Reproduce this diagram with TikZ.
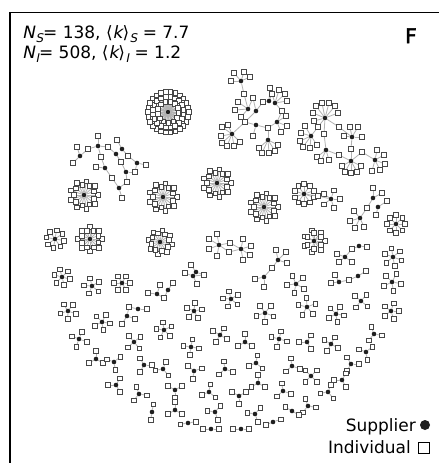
\documentclass[tikz,border=0pt]{standalone}
\usepackage{fontspec}
\setmainfont{DejaVu Sans}
\newfontfamily\obl{DejaVu Sans}[FakeSlant=0.2]
\newfontfamily\bld{DejaVu Sans}[FakeBold=2.5]
\usetikzlibrary{calc}
\tikzset{
 supp/.style={circle,fill=black!88,inner sep=0pt,minimum size=4.6pt},
 ind/.style={rectangle,draw=black!72,fill=white,inner sep=0pt,minimum size=4.6pt,line width=0.55pt},
 edge/.style={draw=black!30,line width=0.8pt},
 lbl/.style={inner sep=0pt,font=\fontsize{17}{20}\selectfont},
}
\newcommand\SUPP[3]{\node[supp] (#1) at (#2,#3) {};}
\newcommand\RING[5]{\foreach \k in {1,...,#3}{\draw[edge] (#1) -- ($(#1)+({#5+360*\k/#3}:#4)$) node[ind] (#1#2\k) {};}}
\newcommand\STAR[6]{\SUPP{#1}{#2}{#3}\RING{#1}{l}{#4}{#5}{#6}}
\newcommand\HUB[3]{\SUPP{#1}{#2}{#3}\RING{#1}{a}{9}{14}{0}\RING{#1}{b}{9}{10.5}{20}}
\newcommand\LEAF[4]{\foreach \s in {#4}{\draw[edge] (\s) -- (#2,#3);}\node[ind] (#1) at (#2,#3) {};}
\newcommand\SB[1]{\kern0.6pt\raisebox{-0.28em}{\fontsize{12}{12}\selectfont\obl #1}}
\begin{document}
\begin{tikzpicture}[x=1pt,y=-1pt]
\useasboundingbox (0,0) rectangle (439,463);
\fill[white] (0,0) rectangle (439,463);
\draw[line width=1.3pt] (10,463) -- (10,12.5) -- (439,12.5);
% texts
\node[lbl,anchor=base west] (t1) at (22,38) {{\obl N}\SB{S}= 138, ⟨{\obl k}⟩\SB{S} = 7.7};
\node[lbl,anchor=base west] (t2) at (22,58) {{\obl N}\SB{I}= 508, ⟨{\obl k}⟩\SB{I} = 1.2};
\node[inner sep=0pt,anchor=base,font=\bld\fontsize{20}{20}\selectfont] (F) at (411,43) {F};
\node[lbl,anchor=base east] (lg1) at (416,431) {Supplier};
\node[supp,minimum size=10pt] (lgs) at (425,425) {};
\node[lbl,anchor=base east] (lg2) at (411,453) {Individual};
\node[ind,minimum size=11pt,line width=1.2pt,draw=black] (lgi) at (424,448) {};
% big hub
\SUPP{h0}{168}{112}\RING{h0}{a}{26}{20.5}{0}\RING{h0}{b}{20}{15.5}{9}\RING{h0}{c}{13}{10.5}{5}
% medium hubs
\HUB{h1}{84}{195}
\HUB{h2}{163}{197}
\HUB{h3}{217}{183}
\HUB{h4}{264}{207}
\SUPP{h5}{90}{239}\RING{h5}{a}{8}{12}{0}\RING{h5}{b}{8}{9}{22}
\SUPP{h6}{160}{242}\RING{h6}{a}{8}{12}{10}\RING{h6}{b}{8}{9}{32}
\SUPP{h7}{314}{241}\RING{h7}{a}{7}{11}{0}\RING{h7}{b}{6}{8}{30}
% stars
\STAR{s1}{55}{239}{8}{9}{10}
\STAR{s2}{304}{194}{10}{10}{18}
\STAR{s3}{331}{199}{5}{9}{0}
\LEAF{q1}{318}{196}{s2,s3}
\STAR{s4}{62}{277}{6}{8}{15}
\STAR{s5}{92}{286}{5}{8}{40}
\STAR{s6}{122}{283}{6}{8}{0}
\STAR{s7}{68}{311}{5}{8}{20}
\STAR{s8}{194}{311}{5}{8}{60}
\STAR{s9}{102}{322}{5}{8}{10}
\STAR{s10}{164}{330}{5}{8}{45}
\STAR{s11}{220}{335}{4}{8}{30}
\STAR{s12}{79}{339}{4}{8}{20}
\STAR{s13}{134}{342}{4}{8}{50}
\STAR{s14}{191}{347}{4}{8}{10}
\STAR{s15}{96}{359}{3}{8}{30}
\STAR{s16}{114}{362}{3}{8}{80}
\STAR{s17}{144}{365}{3}{8}{0}
\STAR{s18}{163}{369}{3}{8}{50}
\STAR{s19}{194}{371}{3}{8}{100}
\STAR{s20}{225}{369}{3}{8}{20}
\STAR{s21}{116}{385}{3}{8}{60}
\STAR{s22}{139}{394}{3}{8}{10}
\STAR{s23}{175}{390}{3}{8}{90}
\STAR{s24}{209}{392}{3}{8}{40}
\STAR{s25}{152}{412}{2}{8}{100}
\STAR{s26}{175}{410}{3}{8}{30}
\STAR{s27}{215}{412}{3}{8}{70}
\STAR{s28}{188}{423}{2}{8}{170}
\STAR{s29}{211}{429}{2}{8}{0}
\STAR{s30}{265}{313}{5}{9}{20}
\STAR{s31}{307}{307}{5}{9}{50}
\STAR{s32}{336}{314}{5}{8}{10}
\STAR{s33}{361}{301}{4}{8}{40}
\STAR{s34}{391}{311}{5}{8}{0}
\STAR{s35}{245}{342}{3}{8}{30}
\STAR{s36}{279}{339}{4}{8}{15}
\STAR{s37}{307}{342}{3}{8}{60}
\STAR{s38}{331}{344}{4}{8}{30}
\STAR{s39}{374}{334}{3}{8}{10}
\STAR{s40}{366}{352}{3}{8}{80}
\STAR{s41}{256}{363}{3}{8}{40}
\STAR{s42}{292}{366}{3}{8}{20}
\STAR{s43}{311}{376}{4}{8}{45}
\STAR{s44}{351}{364}{3}{8}{0}
\STAR{s45}{342}{380}{3}{8}{60}
\STAR{s46}{258}{383}{3}{8}{30}
\STAR{s47}{239}{396}{3}{8}{90}
\STAR{s48}{283}{391}{3}{8}{20}
\STAR{s49}{328}{392}{3}{8}{50}
\STAR{s50}{308}{406}{3}{8}{10}
\STAR{s51}{255}{414}{3}{8}{70}
\STAR{s52}{273}{422}{2}{8}{160}
\STAR{s53}{292}{411}{2}{8}{30}
\STAR{s54}{241}{429}{2}{8}{0}
\STAR{s55}{396}{224}{8}{9}{0}
\STAR{s56}{393}{257}{6}{9}{20}
\STAR{s57}{392}{282}{5}{9}{10}
\STAR{s58}{296}{284}{5}{9}{30}
\STAR{s59}{231}{299}{5}{8}{40}
% pairs
\SUPP{p1}{219}{245}\SUPP{p2}{241}{249}
\LEAF{u1}{217}{234}{p1}\LEAF{u2}{209}{239}{p1}\LEAF{u3}{209}{249}{p1}\LEAF{u4}{217}{256}{p1}
\LEAF{u5}{230}{243}{p1,p2}\LEAF{u6}{229}{252}{p1,p2}
\LEAF{u7}{243}{239}{p2}\LEAF{u8}{251}{246}{p2}\LEAF{u9}{250}{255}{p2}\LEAF{u10}{243}{260}{p2}
\SUPP{p3}{278}{260}\SUPP{p4}{264}{277}
\LEAF{u11}{276}{250}{p3}\LEAF{u12}{286}{252}{p3}\LEAF{u13}{287}{263}{p3}\LEAF{u14}{272}{268}{p3,p4}
\LEAF{u15}{255}{279}{p4}\LEAF{u16}{264}{287}{p4}
\SUPP{p5}{196}{272}\SUPP{p6}{193}{276}
\LEAF{u17}{191}{265}{p5}\LEAF{u18}{185}{273}{p6}\LEAF{u19}{204}{275}{p5,p6}\LEAF{u20}{197}{284}{p6}
\SUPP{p7}{157}{294}\SUPP{p8}{168}{290}
\LEAF{u21}{148}{293}{p7}\LEAF{u22}{160}{285}{p7}\LEAF{u23}{173}{283}{p8}\LEAF{u24}{164}{298}{p7,p8}
\SUPP{p9}{138}{309}\SUPP{p10}{127}{316}
\LEAF{u25}{129}{307}{p9,p10}\LEAF{u26}{147}{309}{p9}\LEAF{u27}{135}{319}{p10}\LEAF{u28}{122}{324}{p10}
% right middle
\SUPP{r1}{373}{198}\SUPP{r2}{378}{207}\SUPP{r3}{360}{218}
\LEAF{v1}{373}{188}{r1}\LEAF{v2}{382}{193}{r1}\LEAF{v3}{387}{201}{r2}\LEAF{v4}{376}{215}{r2}
\LEAF{v5}{367}{208}{r1,r3}
\LEAF{v6}{354}{211}{r3}\LEAF{v7}{350}{221}{r3}\LEAF{v8}{355}{228}{r3}\LEAF{v9}{364}{227}{r3}
\SUPP{m1}{359}{246}\SUPP{m2}{345}{257}
\LEAF{v10}{367}{247}{m1}\LEAF{v11}{352}{249}{m1,m2}
\LEAF{v12}{337}{254}{m2}\LEAF{v13}{339}{262}{m2}\LEAF{v14}{352}{262}{m2}
\SUPP{n1}{339}{282}\SUPP{n2}{358}{276}
\LEAF{v15}{331}{283}{n1}\LEAF{v16}{335}{275}{n1}\LEAF{v17}{349}{280}{n1,n2}\LEAF{v18}{366}{271}{n2}
% left top cluster
\SUPP{L1}{80}{156}\SUPP{L2}{98}{146}\SUPP{L3}{116}{154}\SUPP{L3b}{122}{149}
\SUPP{L4}{105}{168}\SUPP{L5}{126}{172}\SUPP{L6}{137}{163}\SUPP{L7}{119}{188}
\LEAF{w1}{77}{147}{L1}\LEAF{w2}{73}{163}{L1}\LEAF{w3}{88}{149}{L1,L2}
\LEAF{w4}{98}{136}{L2}\LEAF{w5}{108}{147}{L2,L3}\LEAF{w6}{101}{157}{L2,L4}
\LEAF{w7}{117}{140}{L3b}\LEAF{w8}{128}{156}{L3b,L6}\LEAF{w9}{121}{162}{L3,L5}
\LEAF{w10}{146}{165}{L6}\LEAF{w11}{135}{172}{L5,L6}
\LEAF{w12}{96}{167}{L4}\LEAF{w13}{112}{178}{L4,L7}\LEAF{w14}{127}{182}{L5,L7}\LEAF{w15}{122}{198}{L7}
% cluster A
\SUPP{a1}{241}{81}\SUPP{a2}{248}{109}\SUPP{a3}{256}{111}\SUPP{a4}{269}{101}\SUPP{a5}{275}{103}
\SUPP{a6}{256}{125}\SUPP{a7}{277}{122}\SUPP{a8}{232}{134}\SUPP{a9}{268}{140}
\LEAF{x1}{234}{73}{a1}\LEAF{x2}{244}{72}{a1}\LEAF{x3}{250}{77}{a1}\LEAF{x4}{231}{81}{a1}\LEAF{x5}{244}{94}{a1,a2}
\LEAF{x6}{238}{102}{a2}\LEAF{x7}{235}{110}{a2}\LEAF{x8}{241}{117}{a2}\LEAF{x9}{253}{98}{a2,a3}
\LEAF{x10}{263}{102}{a3,a4}\LEAF{x11}{270}{88}{a4}\LEAF{x12}{272}{94}{a4,a5}
\LEAF{x13}{279}{90}{a5}\LEAF{x14}{285}{94}{a5}\LEAF{x15}{287}{101}{a5}\LEAF{x16}{282}{111}{a5,a7}
\LEAF{x17}{245}{122}{a3,a6,a8}\LEAF{x18}{253}{136}{a6}\LEAF{x19}{268}{128}{a6,a7,a9}
\LEAF{x20}{286}{116}{a7}\LEAF{x21}{287}{126}{a7}\LEAF{x22}{281}{132}{a7}
\LEAF{x23}{222}{127}{a8}\LEAF{x24}{221}{136}{a8}\LEAF{x25}{222}{143}{a8}\LEAF{x26}{227}{146}{a8}
\LEAF{x27}{234}{146}{a8}\LEAF{x28}{240}{142}{a8}\LEAF{x29}{228}{125}{a8}
\LEAF{x30}{259}{148}{a9}\LEAF{x31}{262}{153}{a9}\LEAF{x32}{269}{153}{a9}\LEAF{x33}{275}{151}{a9}\LEAF{x34}{278}{145}{a9}
% cluster B
\SUPP{b1}{325}{118}\SUPP{b2}{311}{136}\SUPP{b3}{352}{137}\SUPP{b4}{326}{150}\SUPP{b5}{351}{161}\SUPP{b6}{375}{160}
\LEAF{y1}{313}{113}{b1}\LEAF{y2}{316}{106}{b1}\LEAF{y3}{322}{103}{b1}\LEAF{y4}{329}{103}{b1}
\LEAF{y5}{335}{106}{b1}\LEAF{y6}{338}{113}{b1}\LEAF{y7}{314}{121}{b1}
\LEAF{y8}{339}{127}{b1,b3}\LEAF{y9}{324}{134}{b1,b4}\LEAF{y10}{318}{127}{b1,b2}
\LEAF{y11}{301}{133}{b2}\LEAF{y12}{300}{141}{b2}\LEAF{y13}{303}{147}{b2}\LEAF{y14}{310}{148}{b2}\LEAF{y15}{317}{145}{b2}\LEAF{y16}{305}{126}{b2}
\LEAF{y17}{344}{136}{b3}\LEAF{y18}{350}{127}{b3}\LEAF{y19}{358}{127}{b3}\LEAF{y20}{362}{137}{b3}\LEAF{y21}{351}{149}{b3,b5}
\LEAF{y22}{317}{157}{b4}\LEAF{y23}{321}{161}{b4}\LEAF{y24}{329}{160}{b4}\LEAF{y25}{339}{155}{b4,b5}
\LEAF{y26}{342}{166}{b5}\LEAF{y27}{345}{172}{b5}\LEAF{y28}{351}{173}{b5}\LEAF{y29}{357}{172}{b5}\LEAF{y30}{361}{166}{b5}
\LEAF{y31}{362}{152}{b5,b6}
\LEAF{y32}{377}{150}{b6}\LEAF{y33}{384}{155}{b6}\LEAF{y34}{385}{164}{b6}\LEAF{y35}{380}{170}{b6}\LEAF{y36}{372}{171}{b6}
\end{tikzpicture}
\end{document}
